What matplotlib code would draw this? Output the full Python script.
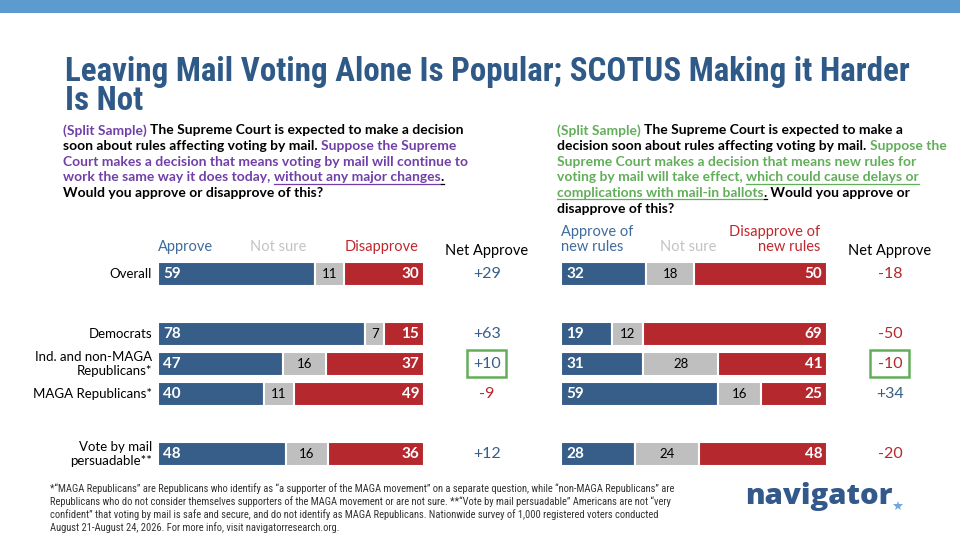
import matplotlib
matplotlib.use("Agg")
import matplotlib.pyplot as plt
from matplotlib.patches import Rectangle
from matplotlib.lines import Line2D
from matplotlib.font_manager import FontProperties, fontManager

W, H = 960, 540

# data
groups = ["Overall", "Democrats", "Ind. and non-MAGA\nRepublicans*", "MAGA Republicans*",
          "Vote by mail\npersuadable**"]
rows = [0, 2, 3, 4, 6]
keep_approve = [59, 78, 47, 40, 48]
keep_notsure = [11, 7, 16, 11, 16]
keep_disapprove = [30, 15, 37, 49, 36]
keep_net = [29, 63, 10, -9, 12]
new_approve = [32, 19, 31, 59, 28]
new_notsure = [18, 12, 28, 16, 24]
new_disapprove = [50, 69, 41, 25, 48]
new_net = [-18, -50, -10, 34, -20]
highlight = 3

BLUE = "#365E89"
GRAY = "#BFBFBF"
RED = "#B4282E"
PURPLE = "#7040A8"
GREEN = "#62AE5A"
TITLE = "#2F5A88"
BODY = "Lato"
names = {f.name for f in fontManager.ttflist}


def first_font(options):
    for n in options:
        if n in names:
            return n
    return "DejaVu Sans"


NARROW = first_font(["Liberation Sans Narrow", "Roboto Condensed", "Open Sans Condensed",
                     "DejaVu Sans Condensed", "Roboto"])

plt.rcParams["font.family"] = [BODY, "DejaVu Sans"]

fig = plt.figure(figsize=(9.6, 5.4), dpi=100)
fig.patch.set_facecolor("white")
renderer = fig.canvas.get_renderer()


def fx(x):
    return x / W


def fy(y):
    return 1 - y / H


def fit_size(txt, family, weight, width_px):
    prop = FontProperties(family=family, weight=weight, size=10)
    w = renderer.get_text_width_height_descent(txt, prop, ismath=False)[0]
    return 10 * width_px / w


# top band
fig.add_artist(Rectangle((0, fy(13)), 1, 13 / H, transform=fig.transFigure,
                         color="#5B9BCF", lw=0))

title1 = "Leaving Mail Voting Alone Is Popular; SCOTUS Making it Harder"
ts = fit_size(title1, NARROW, "bold", 846)
fig.text(fx(65), fy(81), title1, family=NARROW, fontsize=ts, fontweight="bold",
         color=TITLE, va="baseline")
fig.text(fx(65), fy(110), "Is Not", family=NARROW, fontsize=ts, fontweight="bold",
         color=TITLE, va="baseline")


def draw_runs(x, y, lines, pitch, size):
    prop = FontProperties(family=BODY, weight="bold", size=size)
    bar_w = renderer.get_text_width_height_descent("|", prop, ismath=False)[0]
    for i, line in enumerate(lines):
        by = y + i * pitch
        prefix = ""
        for txt, col, ul in line:
            w0 = renderer.get_text_width_height_descent(prefix + "|", prop, ismath=False)[0] - bar_w
            prefix += txt
            w1 = renderer.get_text_width_height_descent(prefix + "|", prop, ismath=False)[0] - bar_w
            fig.text(fx(x + w0), fy(by), txt, color=col, fontproperties=prop, va="baseline")
            if ul:
                fig.add_artist(Line2D([fx(x + w0), fx(x + w1)], [fy(by + 2.5)] * 2,
                                      transform=fig.transFigure, color=col, lw=0.9))


K = "black"
left_q = [
    [("(Split Sample) ", PURPLE, False), ("The Supreme Court is expected to make a decision", K, False)],
    [("soon about rules affecting voting by mail. ", K, False), ("Suppose the Supreme", PURPLE, False)],
    [("Court makes a decision that means voting by mail will continue to", PURPLE, False)],
    [("work the same way it does today, ", PURPLE, False), ("without any major changes", PURPLE, True),
     (".", K, True)],
    [("Would you approve or disapprove of this?", K, False)],
]
right_q = [
    [("(Split Sample) ", GREEN, False), ("The Supreme Court is expected to make a", K, False)],
    [("decision soon about rules affecting voting by mail. ", K, False), ("Suppose the", GREEN, False)],
    [("Supreme Court makes a decision that means new rules for", GREEN, False)],
    [("voting by mail will take effect, ", GREEN, False), ("which could cause delays or", GREEN, True)],
    [("complications with mail-in ballots", GREEN, True), (".", K, True),
     (" Would you approve or", K, False)],
    [("disapprove of this?", K, False)],
]
qs = fit_size("Court makes a decision that means voting by mail will continue to", BODY, "bold", 404)
draw_runs(63, 134.5, left_q, 15.6, qs)
draw_runs(557, 134.5, right_q, 15.6, qs)


def panel(x0, approve, notsure, disapprove, net):
    ax = fig.add_axes([fx(x0), fy(469), 266 / W, 210 / H])
    mid = [a + n for a, n in zip(approve, notsure)]
    ax.barh(rows, approve, height=0.8, color=BLUE, edgecolor="white", lw=1.5)
    ax.barh(rows, notsure, left=approve, height=0.8, color=GRAY, edgecolor="white", lw=1.5)
    ax.barh(rows, disapprove, left=mid, height=0.8, color=RED, edgecolor="white", lw=1.5)
    for r, a, n, d, v in zip(rows, approve, notsure, disapprove, net):
        ax.text(1.9, r, str(a), color="white", fontweight="bold", fontsize=11, va="center")
        ax.text(a + n / 2, r, str(n), color="black", fontsize=9.5, va="center", ha="center")
        ax.text(98.2, r, str(d), color="white", fontweight="bold", fontsize=11, va="center",
                ha="right")
        ax.text(123.7, r, f"{v:+d}", color=BLUE if v > 0 else RED, fontsize=11.5,
                va="center", ha="center", clip_on=False)
    ax.add_patch(Rectangle((116.2, highlight - 0.47), 14.6, 0.9, fill=False,
                           edgecolor=GREEN, lw=1.8, clip_on=False))
    ax.text(123.7, -0.78, "Net Approve", fontsize=10.5, ha="center", va="center",
            color="black", clip_on=False)
    ax.set_xlim(0, 100)
    ax.set_ylim(6.5, -0.5)
    ax.axis("off")
    return ax


ax1 = panel(158, keep_approve, keep_notsure, keep_disapprove, keep_net)
ax2 = panel(561, new_approve, new_notsure, new_disapprove, new_net)

for r, g in zip(rows, groups):
    ax1.text(-2.3, r, g, ha="right", va="center", fontsize=9.5, linespacing=1.15)

HB = "#3E6C9C"
HR = "#C0282E"
HG = "#C3C3C3"
ax1.text(0, -0.9, "Approve", color=HB, fontsize=10.5, va="center")
ax1.text(45, -0.9, "Not sure", color=HG, fontsize=10.5, va="center", ha="center")
ax1.text(97.8, -0.9, "Disapprove", color=HR, fontsize=10.5, va="center", ha="right")
ax2.text(0, -1.4, "Approve of", color=HB, fontsize=10.5, va="center")
ax2.text(0, -0.9, "new rules", color=HB, fontsize=10.5, va="center")
ax2.text(47.7, -0.9, "Not sure", color=HG, fontsize=10.5, va="center", ha="center")
ax2.text(97.4, -1.4, "Disapprove of", color=HR, fontsize=10.5, va="center", ha="right")
ax2.text(97.4, -0.9, "new rules", color=HR, fontsize=10.5, va="center", ha="right")

foot1 = ("*\u201cMAGA Republicans\u201d are Republicans who identify as \u201ca supporter of the MAGA movement\u201d "
         "on a separate question, while \u201cnon-MAGA Republicans\u201d are")
foot = (foot1 + "\n"
        "Republicans who do not consider themselves supporters of the MAGA movement or are not sure. "
        "**\u201cVote by mail persuadable\u201d Americans are not \u201cvery\n"
        "confident\u201d that voting by mail is safe and secure, and do not identify as MAGA Republicans. "
        "Nationwide survey of 1,000 registered voters conducted\n"
        "August 21-August 24, 2026. For more info, visit navigatorresearch.org.")
fs = fit_size(foot1, NARROW, "normal", 628)
fig.text(fx(50), fy(483), foot, family=NARROW, fontsize=fs, color="#333333", va="top",
         linespacing=1.25)

ls = fit_size("navigator", "Open Sans", "heavy", 148)
fig.text(fx(745), fy(504), "navigator", family="Open Sans", fontsize=ls, fontweight="heavy",
         color="#33588A", va="baseline")
fig.add_artist(Line2D([fx(898)], [fy(506)], marker="*", ms=7.5, color="#6FA8DC", mew=0,
                      transform=fig.transFigure))

fig.savefig("out.png", dpi=100)
